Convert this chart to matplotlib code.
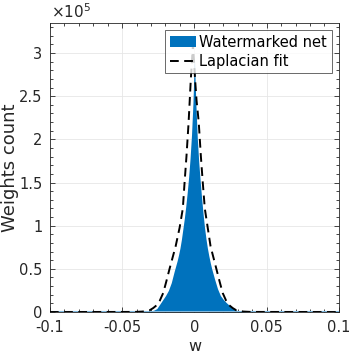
import numpy as np
import matplotlib
matplotlib.use("Agg")
import matplotlib.pyplot as plt
from matplotlib.ticker import MultipleLocator

plt.rcParams['font.family'] = ['DejaVu Sans']

# histogram of watermarked weights (w, counts in units of 1e5)
hist_w = [-0.1, -0.040, -0.035, -0.032, -0.030, -0.028, -0.026, -0.024, -0.022,
          -0.020, -0.018, -0.016, -0.014, -0.013, -0.012, -0.011, -0.010,
          -0.009, -0.008, -0.007, -0.006, -0.005, -0.004, -0.003, -0.002,
          -0.001, 0.0, 0.001, 0.002, 0.003, 0.004, 0.005, 0.006, 0.007,
          0.008, 0.009, 0.010, 0.011, 0.012, 0.013, 0.014, 0.016, 0.018,
          0.020, 0.022, 0.024, 0.026, 0.028, 0.030, 0.032, 0.035, 0.040, 0.1]
hist_count = [0.0, 0.001, 0.004, 0.008, 0.013, 0.022, 0.04, 0.09, 0.14,
              0.19, 0.25, 0.34, 0.47, 0.53, 0.59, 0.66, 0.74,
              0.84, 0.96, 1.08, 1.22, 1.38, 1.56, 1.78, 2.05,
              2.42, 2.95, 2.42, 2.02, 1.74, 1.52, 1.32, 1.14, 0.98,
              0.85, 0.74, 0.65, 0.57, 0.50, 0.44, 0.38, 0.27, 0.19,
              0.145, 0.11, 0.08, 0.05, 0.028, 0.015, 0.008, 0.004, 0.001, 0.0]

# laplacian fit curve (units of 1e5)
fit_w = [-0.1, -0.041, -0.036, -0.031, -0.0285, -0.026, -0.024, -0.0216,
         -0.0195, -0.0172, -0.013, -0.0102, -0.008, -0.0068, -0.0055, -0.004,
         -0.0025, -0.001, 0.0005, 0.0015, 0.003, 0.0045, 0.0058, 0.0072,
         0.0092, 0.0112, 0.0152, 0.0175, 0.0196, 0.022, 0.024, 0.0265, 0.029,
         0.034, 0.039, 0.1]
fit_count = [0.0, 0.001, 0.005, 0.02, 0.046, 0.08, 0.13, 0.22,
             0.35, 0.5, 0.76, 0.98, 1.2, 1.5, 1.8, 2.2,
             2.69, 3.1, 2.69, 2.45, 2.2, 1.8, 1.5, 1.2,
             0.98, 0.76, 0.5, 0.35, 0.22, 0.13, 0.08, 0.046, 0.02,
             0.005, 0.001, 0.0]

hist_w = np.array(hist_w)
hist_count = np.array(hist_count) * 1e5
fit_w = np.array(fit_w)
fit_count = np.array(fit_count) * 1e5

fig = plt.figure(figsize=(3.49, 3.57), dpi=100)
ax = fig.add_axes([0.143, 0.126, 0.828, 0.810])

ax.fill_between(hist_w, 0, hist_count, color='#0072BD', lw=0,
                label='Watermarked net', zorder=2)
ax.plot([-0.1, 0.1], [0, 0], color='#7fb8de', lw=1.5, zorder=2.5)
ax.plot(fit_w, fit_count, color='k', ls=(0, (4.5, 2.8)), lw=1.4,
        label='Laplacian fit', zorder=3)

ax.set_xlim(-0.1, 0.1)
ax.set_ylim(0, 3.35e5)
ax.set_xticks([-0.1, -0.05, 0, 0.05, 0.1])
ax.set_xticklabels(['-0.1', '-0.05', '0', '0.05', '0.1'])
ax.set_yticks([0, 0.5e5, 1e5, 1.5e5, 2e5, 2.5e5, 3e5])
ax.set_yticklabels(['0', '0.5', '1', '1.5', '2', '2.5', '3'])
ax.xaxis.set_minor_locator(MultipleLocator(0.01))
ax.yaxis.set_minor_locator(MultipleLocator(0.1e5))
ax.tick_params(which='both', direction='in', top=True, right=True,
               colors='#262626', labelsize=10.5, width=0.6)
ax.tick_params(axis='x', which='major', pad=5.5)
ax.tick_params(axis='y', which='major', pad=5.5)
ax.tick_params(which='major', length=3.5)
ax.tick_params(which='minor', length=2)
ax.grid(True, which='major', color='#e6e6e6', lw=0.6, zorder=0)
ax.set_axisbelow(True)
for s in ax.spines.values():
    s.set_color('#262626')
    s.set_linewidth(0.6)

ax.set_xlabel('w', fontsize=11.5, color='#262626', labelpad=3)
ax.set_ylabel('Weights count', fontsize=13, color='#262626')
ax.yaxis.set_label_coords(-0.138, 0.5)
ax.yaxis.label.set_va('center')
ax.text(0.005, 1.005, r'$\times10^{5}$', transform=ax.transAxes, fontsize=11,
        color='#262626', ha='left', va='bottom')

leg = ax.legend(loc='upper right', fontsize=10.5, frameon=True, fancybox=False,
                borderpad=0.3, labelspacing=0.3, handlelength=1.8,
                handletextpad=0.25, borderaxespad=0.5)
leg.get_frame().set_edgecolor('#262626')
leg.get_frame().set_linewidth(0.6)

fig.savefig('out.png', dpi=100)
